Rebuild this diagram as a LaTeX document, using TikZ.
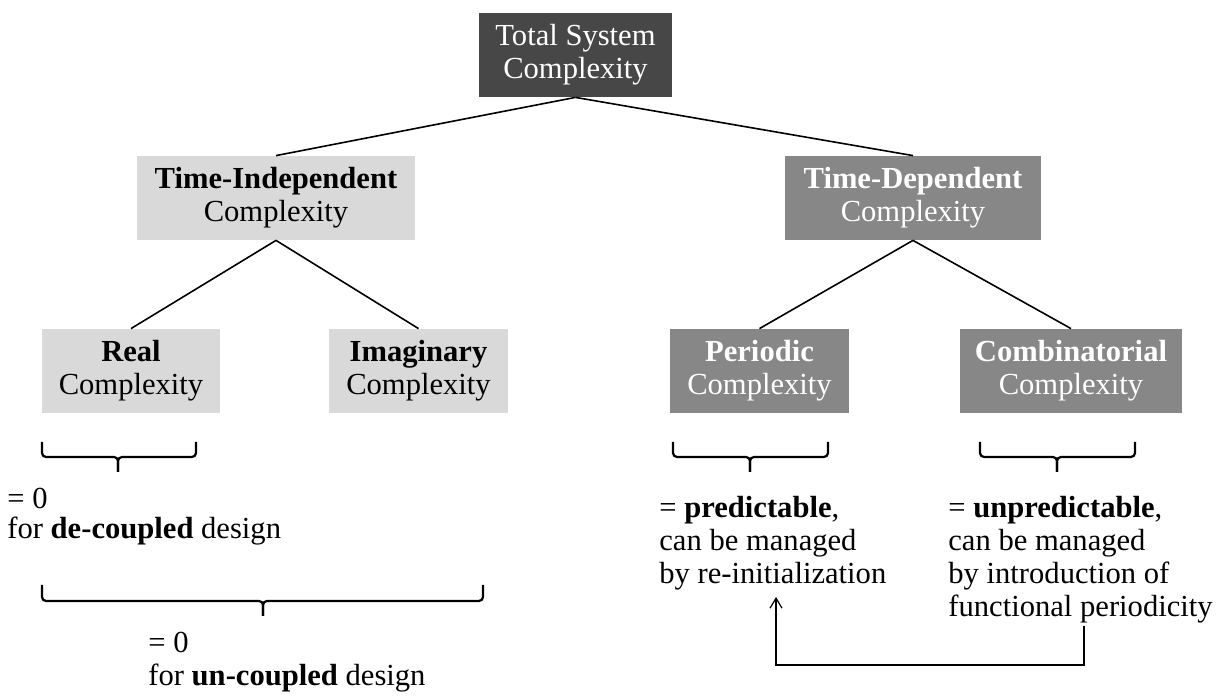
\documentclass[tikz,border=0pt]{standalone}
\usepackage{fontspec}
\setmainfont{Liberation Serif}
\usetikzlibrary{arrows.meta}
\definecolor{boxdark}{HTML}{474747}
\definecolor{boxmid}{HTML}{878787}
\definecolor{boxlight}{HTML}{D9D9D9}

\begin{document}
\fontsize{15.3}{16.5}\selectfont
\begin{tikzpicture}[x=0.5pt, y=-0.5pt,
    darkbox/.style={rectangle, fill=boxdark, text=white, align=center, minimum height=42pt, inner sep=0pt},
    midbox/.style={rectangle, fill=boxmid, text=white, align=center, minimum height=42pt, inner sep=0pt},
    lightbox/.style={rectangle, fill=boxlight, align=center, minimum height=42pt, inner sep=0pt},
    link/.style={line width=0.8pt},
    brc/.style={line width=1.1pt, rounded corners=2pt},
    note/.style={anchor=north west, align=left, inner sep=0pt},
    fb/.style={line width=0.6pt, -{Straight Barb[length=5pt, width=6pt]}},
    ]
    \useasboundingbox (0,0) rectangle (1228,699);

    % complexity tree
    \node[darkbox,  minimum width=96.5pt] (total) at (575.5,55) {Total System\\Complexity};
    \node[lightbox, minimum width=139pt]  (tind)  at (276,198)  {\textbf{Time-Independent}\\Complexity};
    \node[midbox,   minimum width=128pt]  (tdep)  at (913,198)  {\textbf{Time-Dependent}\\Complexity};
    \node[lightbox, minimum width=89pt]   (real)  at (131,371)  {\textbf{Real}\\Complexity};
    \node[lightbox, minimum width=89.5pt] (imag)  at (418.5,371) {\textbf{Imaginary}\\Complexity};
    \node[midbox,   minimum width=89.5pt] (peri)  at (759.5,371) {\textbf{Periodic}\\Complexity};
    \node[midbox,   minimum width=111pt]  (comb)  at (1071,371) {\textbf{Combinatorial}\\Complexity};

    % tree links
    \draw[link] (total.south) -- (tind.north);
    \draw[link] (total.south) -- (tdep.north);
    \draw[link] (tind.south)  -- (real.north);
    \draw[link] (tind.south)  -- (imag.north);
    \draw[link] (tdep.south)  -- (peri.north);
    \draw[link] (tdep.south)  -- (comb.north);

    % braces
    \draw[brc] (42,442)  |- (118,457) -- (118,472);
    \draw[brc] (196,442) |- (118,457) -- (118,472);
    \draw[brc] (673,442) |- (750,457) -- (750,472);
    \draw[brc] (828,442) |- (750,457) -- (750,472);
    \draw[brc] (980,442)  |- (1057,457) -- (1057,472);
    \draw[brc] (1135,442) |- (1057,457) -- (1057,472);
    \draw[brc] (42,585)  |- (263,601) -- (263,616);
    \draw[brc] (483,585) |- (263,601) -- (263,616);

    % notes
    \node[note] (dec)    at (7,488)   {= 0\\[-1.5pt]for \textbf{de-coupled} design};
    \node[note] (unc)    at (148,632) {= 0\\for \textbf{un-coupled} design};
    \node[note] (pred)   at (659,496) {= \textbf{predictable},\\can be managed\\by re-initialization};
    \node[note] (unpred) at (948,496) {= \textbf{unpredictable},\\can be managed\\by introduction of\\functional periodicity};

    % feedback arrow
    \coordinate (fb_from) at (1084,626);
    \coordinate (fb_to)   at (776,597);
    \draw[fb] (fb_from) -- ++(0,39) -| (fb_to);
\end{tikzpicture}
\end{document}
